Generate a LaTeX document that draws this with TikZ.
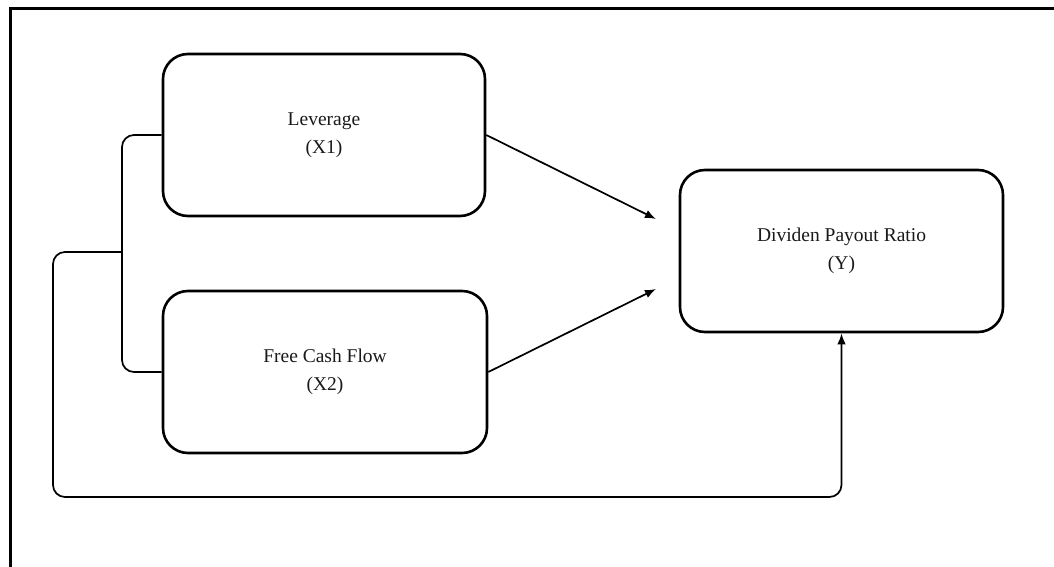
\documentclass[tikz,border=0pt]{standalone}
\usepackage{fontspec}
\setmainfont{Liberation Serif}
\usetikzlibrary{arrows.meta}
\begin{document}
\begin{tikzpicture}[x=1pt,y=-1pt,
  varbox/.style={draw, line width=2.6pt, rounded corners=25pt, inner sep=0pt,
    align=center, font=\fontsize{19.5}{28}\selectfont, text=black!90,
    minimum height=162pt},
  conn/.style={line width=1.7pt, rounded corners=12pt},
  arr/.style={conn, -{Latex[length=11pt,width=8.5pt]}},
  frameline/.style={line width=3pt}]
\useasboundingbox (0,0) rectangle (1054,567);
% partial outer frame
\draw[frameline] (1054,9) -- (10,9) -- (10,567);
% boxes
\node[varbox, minimum width=322pt] (lev) at (324,135) {Leverage\\(X1)};
\node[varbox, minimum width=324pt] (fcf) at (325,372) {Free Cash Flow\\(X2)};
\node[varbox, minimum width=323pt] (dpr) at (841.5,251) {Dividen Payout Ratio\\(Y)};
% helper coordinates
\coordinate (tipA) at (656,219);
\coordinate (tipB) at (656,289);
\coordinate (brL) at (122,135);
\coordinate (brF) at (122,372);
\coordinate (loopS) at (122,252);
\coordinate (loopA) at (53,252);
\coordinate (loopB) at (53,497);
\coordinate (loopC) at (dpr.south |- loopB);
% connectors
\draw[arr] (lev.east) -- (tipA);
\draw[arr] (fcf.east) -- (tipB);
\draw[conn] (lev.west) -- (brL) -- (brF) -- (fcf.west);
\draw[arr] (loopS) -- (loopA) -- (loopB) -- (loopC) -- (dpr.south);
\end{tikzpicture}
\end{document}
